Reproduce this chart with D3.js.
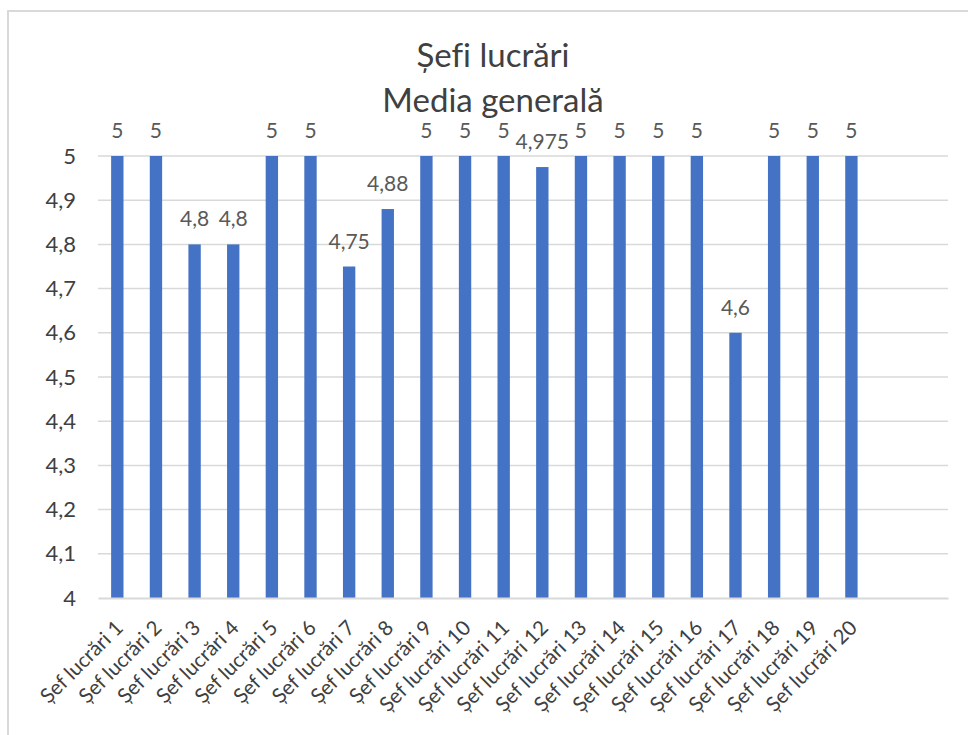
<!DOCTYPE html>
<html>
<head>
<meta charset="utf-8">
<script src="https://cdn.jsdelivr.net/npm/d3@7"></script>
<style>
  body { margin: 0; background: #fff; }
  svg text { font-family: Lato, "Open Sans", sans-serif; font-variant-ligatures: none; font-feature-settings: "liga" 0; }
</style>
</head>
<body>
<div id="chart"></div>
<script>
// data
let categories = ["Șef lucrări 1", "Șef lucrări 2", "Șef lucrări 3", "Șef lucrări 4", "Șef lucrări 5",
    "Șef lucrări 6", "Șef lucrări 7", "Șef lucrări 8", "Șef lucrări 9", "Șef lucrări 10",
    "Șef lucrări 11", "Șef lucrări 12", "Șef lucrări 13", "Șef lucrări 14", "Șef lucrări 15",
    "Șef lucrări 16", "Șef lucrări 17", "Șef lucrări 18", "Șef lucrări 19", "Șef lucrări 20"];
let values = [5, 5, 4.8, 4.8, 5, 5, 4.75, 4.88, 5, 5, 5, 4.975, 5, 5, 5, 5, 4.6, 5, 5, 5];
// two empty slots at the end of the category axis
let emptySlots = ["(gol 1)", "(gol 2)"];
let yTicks = [4, 4.1, 4.2, 4.3, 4.4, 4.5, 4.6, 4.7, 4.8, 4.9, 5];
let titleLines = ["Șefi lucrări", "Media generală"];

let svg_width = 968;
let svg_height = 735;

let margin_left = 98;
let plot_right = 948;
let plot_top = 156;
let plot_bottom = 598;

let fmt = d => String(d).replace(".", ",");

let svg = d3.select("#chart")
    .append("svg")
    .attr("width", svg_width)
    .attr("height", svg_height);

// outer chart frame
svg.append("rect")
    .attr("x", 8)
    .attr("y", 11)
    .attr("width", 1000)
    .attr("height", 800)
    .attr("fill", "none")
    .attr("stroke", "#d9d9d9")
    .attr("stroke-width", 2);

let xScale = d3.scaleBand()
    .domain(categories.concat(emptySlots))
    .range([margin_left, plot_right])
    .paddingInner(0.68)
    .paddingOuter(0.34);

let yScale = d3.scaleLinear()
    .domain([4, 5])
    .range([plot_bottom, plot_top]);

// gridlines
svg.append("g")
    .selectAll("line")
    .data(yTicks.filter(d => d > 4))
    .enter()
    .append("line")
    .attr("x1", margin_left)
    .attr("x2", plot_right)
    .attr("y1", d => yScale(d))
    .attr("y2", d => yScale(d))
    .attr("stroke", "#d9d9d9")
    .attr("stroke-width", 1.5);

// y axis labels
let y_axis = svg.append("g")
    .attr("transform", "translate(" + margin_left + ",0)")
    .call(d3.axisLeft(yScale).tickValues(yTicks).tickFormat(fmt).tickSize(0).tickPadding(22));
y_axis.select(".domain").remove();
y_axis.selectAll("text")
    .attr("font-size", "22px")
    .attr("fill", "#404040")
    .style("font-family", "Lato, sans-serif");

// bars
svg.append("g")
    .selectAll("rect")
    .data(values)
    .enter()
    .append("rect")
    .attr("x", (d, i) => xScale(categories[i]))
    .attr("width", xScale.bandwidth())
    .attr("y", d => yScale(d))
    .attr("height", d => yScale(4) - yScale(d))
    .attr("fill", "#4472c4");

// data labels
svg.append("g")
    .selectAll("text")
    .data(values)
    .enter()
    .append("text")
    .attr("x", (d, i) => xScale(categories[i]) + xScale.bandwidth() / 2)
    .attr("y", d => yScale(d) - 18)
    .attr("text-anchor", "middle")
    .attr("font-size", "21px")
    .attr("fill", "#595959")
    .text(fmt);

// x axis
let x_axis = svg.append("g")
    .attr("transform", "translate(0," + plot_bottom + ")")
    .call(d3.axisBottom(xScale).tickValues(categories).tickSize(0).tickSizeOuter(0));
x_axis.select(".domain")
    .attr("stroke", "#d9d9d9")
    .attr("stroke-width", 2);
x_axis.selectAll("text")
    .attr("font-size", "20.5px")
    .attr("fill", "#404040")
    .style("font-family", "Lato, sans-serif")
    .attr("text-anchor", "end")
    .attr("dy", null)
    .attr("y", 0)
    .attr("transform", "translate(7,31) rotate(-45)");

// title
svg.append("g")
    .selectAll("text")
    .data(titleLines)
    .enter()
    .append("text")
    .attr("x", 493)
    .attr("y", (d, i) => 67 + i * 45)
    .attr("text-anchor", "middle")
    .attr("font-size", "33px")
    .attr("fill", "#404040")
    .text(d => d);
</script>
</body>
</html>
